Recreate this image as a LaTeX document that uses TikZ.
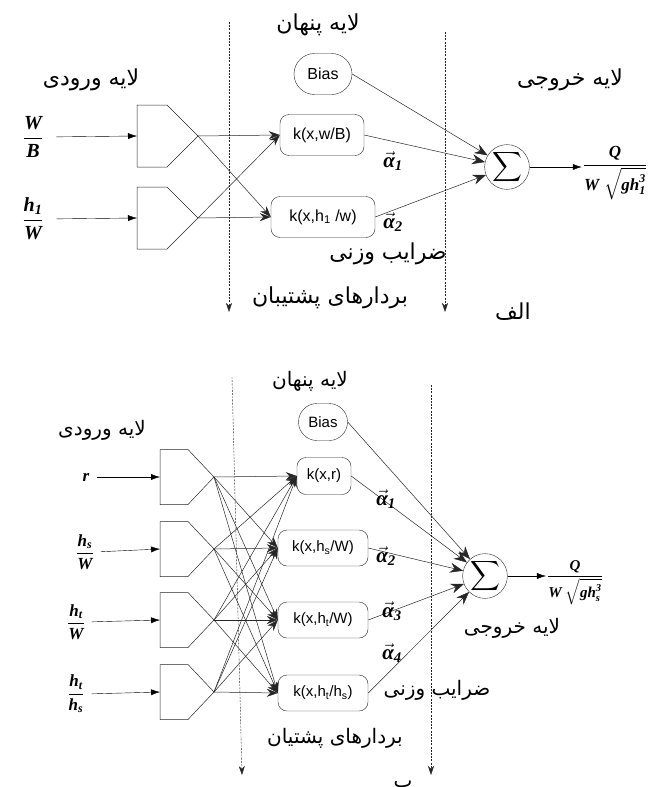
\documentclass[tikz,border=0pt]{standalone}
\usepackage{amsmath}
\usepackage{fontspec}
\usetikzlibrary{arrows.meta,shapes.misc}
\newfontfamily\persianfont[Script=Arabic]{DejaVu Sans}
\newfontfamily\arialfont{Liberation Sans}
\newfontfamily\timesfont{Liberation Serif}
\TeXXeTstate=1
\newcommand{\fa}[1]{\persianfont\beginR #1\endR}
\newcommand{\bi}[1]{\text{\timesfont\bfseries\itshape #1}}

\tikzset{
  kbox/.style={draw, black!85, text=black, rounded corners=9pt, inner sep=2pt},
  biasbox/.style={draw, black!85, text=black, rounded rectangle, inner sep=2pt},
  sumnode/.style={draw, black!85, text=black, circle, inner sep=0pt},
  neuronline/.style={black!85, line width=0.5pt},
  inarrow/.style={-{Latex[length=9pt,width=6pt]}},
  hidarrow/.style={-{Stealth[length=11pt,width=8pt]}},
  sumarrow/.style={-{Stealth[length=13pt,width=10pt]}},
  sepline/.style={black!85, dash pattern=on 2pt off 1.2pt, -{Stealth[length=9pt,width=6pt]}},
  fatext/.style={inner sep=1pt},
  alab/.style={font=\fontsize{21}{23}\selectfont, inner sep=0pt}
}

\begin{document}
\begin{tikzpicture}[x=1pt,y=-1pt]
    \useasboundingbox (0,0) rectangle (649,787);

    % ---------- (الف) ----------
    % separators
    \coordinate (dA1) at (229,22);  \coordinate (eA1) at (229,312);
    \coordinate (dA2) at (445,32);  \coordinate (eA2) at (445,312);
    \draw[sepline] (dA1) -- (eA1);
    \draw[sepline] (dA2) -- (eA2);

    % input layer
    \node[fatext, font=\fontsize{22}{26}\selectfont] (inlayA) at (91,80) {\fa{لایه ورودی}};
    \node[font=\fontsize{20}{22}\selectfont, inner sep=1pt] (xA1) at (33,137) {$\dfrac{\bi{W}}{\bi{B}}$};
    \node[font=\fontsize{20}{22}\selectfont, inner sep=1pt] (xA2) at (33,219) {$\dfrac{\bi{h}_{\bi{1}}}{\bi{W}}$};
    \foreach \n/\y in {1/136,2/218}{
        \draw[neuronline] (137,\y-31) -- (167,\y-31) -- (198,\y) -- (167,\y+31) -- (137,\y+31) -- cycle;
        \coordinate (nA\n) at (137,\y);
        \coordinate (tA\n) at (198,\y);
    }
    \draw[inarrow, shorten <=12pt] (xA1.east) -- (nA1);
    \draw[inarrow, shorten <=12pt] (xA2.east) -- (nA2);

    % hidden layer
    \node[fatext, font=\fontsize{22}{26}\selectfont] (hidA) at (318,25) {\fa{لایه پنهان}};
    \node[biasbox, minimum width=62pt, minimum height=41pt, font=\arialfont\fontsize{16}{19}\selectfont] (biasA) at (323,74) {Bias};
    \node[kbox, minimum width=84pt, minimum height=41pt, font=\arialfont\fontsize{16}{19}\selectfont] (kA1) at (322,135) {k(x,w/B)};
    \node[kbox, minimum width=104pt, minimum height=41pt, font=\arialfont\fontsize{16}{19}\selectfont] (kA2) at (323,217) {k(x,h\textsubscript{1} /w)};
    \foreach \i in {1,2}
        \foreach \j in {1,2}
            \draw[neuronline, hidarrow] (tA\i) -- (kA\j.west);

    % output layer
    \node[sumnode, minimum size=40pt] (sumA) at (507,167) {\fontsize{22}{24}\selectfont$\displaystyle\sum$};
    \draw[neuronline, sumarrow] (biasA.east) -- (sumA);
    \draw[neuronline, sumarrow] (kA1.east) -- (sumA);
    \draw[neuronline, sumarrow] (kA2.east) -- (sumA);
    \node[font=\fontsize{17}{19}\selectfont, inner sep=1pt] (outA) at (615,173) {$\dfrac{\bi{Q}}{\bi{W}\;\sqrt{\bi{gh}_{\bi{1}}^{\bi{3}}}}$};
    \draw[inarrow] (sumA) -- (sumA -| outA.west);
    \node[fatext, font=\fontsize{22}{26}\selectfont] (outlayA) at (570,80) {\fa{لایه خروجی}};

    % weights
    \node[alab] (alA1) at (393,161) {$\vec{\bi{α}}_{\bi{1}}$};
    \node[alab] (alA2) at (393,222) {$\vec{\bi{α}}_{\bi{2}}$};
    \node[fatext, font=\fontsize{22}{26}\selectfont] (wA) at (388,254) {\fa{ضرایب وزنی}};
    \node[fatext, font=\fontsize{22}{26}\selectfont] (svA) at (330,298) {\fa{بردارهای پشتیبان}};
    \node[fatext, font=\fontsize{22}{26}\selectfont] (capA) at (513,312) {\fa{الف}};

    % ---------- (ب) ----------
    % separators
    \coordinate (dB1) at (232,377);  \coordinate (eB1) at (242,775);
    \coordinate (dB2) at (431,385);  \coordinate (eB2) at (431,775);
    \draw[sepline] (dB1) -- (eB1);
    \draw[sepline] (dB2) -- (eB2);

    % input layer
    \node[fatext, font=\fontsize{20}{24}\selectfont] (inlayB) at (102,430) {\fa{لایه ورودی}};
    \node[font=\fontsize{17}{19}\selectfont, inner sep=1pt] (xB1) at (86,477) {$\bi{r}$};
    \node[font=\fontsize{17}{19}\selectfont, inner sep=1pt] (xB2) at (85,552) {$\dfrac{\bi{h}_{\bi{s}}}{\bi{W}}$};
    \node[font=\fontsize{17}{19}\selectfont, inner sep=1pt] (xB3) at (76,622) {$\dfrac{\bi{h}_{\bi{t}}}{\bi{W}}$};
    \node[font=\fontsize{17}{19}\selectfont, inner sep=1pt] (xB4) at (76,694) {$\dfrac{\bi{h}_{\bi{t}}}{\bi{h}_{\bi{s}}}$};
    \foreach \n/\y in {1/477,2/549,3/620,4/692}{
        \draw[neuronline] (160,\y-27.5) -- (188,\y-27.5) -- (214,\y) -- (188,\y+27.5) -- (160,\y+27.5) -- cycle;
        \coordinate (nB\n) at (160,\y);
        \coordinate (tB\n) at (214,\y);
    }
    \draw[inarrow, shorten <=6pt] (xB1.east) -- (nB1);
    \foreach \n in {2,3,4}
        \draw[inarrow, shorten <=6pt] (xB\n.east) -- (nB\n);

    % hidden layer
    \node[fatext, font=\fontsize{20}{24}\selectfont] (hidB) at (310,381) {\fa{لایه پنهان}};
    \node[biasbox, minimum width=53pt, minimum height=37pt, font=\arialfont\fontsize{15}{18}\selectfont] (biasB) at (323,422) {Bias};
    \node[kbox, minimum width=54pt, minimum height=37pt, font=\arialfont\fontsize{15}{18}\selectfont] (kB1) at (324,476) {k(x,r)};
    \node[kbox, minimum width=90pt, minimum height=36pt, font=\arialfont\fontsize{15}{18}\selectfont] (kB2) at (323,548) {k(x,h\textsubscript{s}/W)};
    \node[kbox, minimum width=90pt, minimum height=36pt, font=\arialfont\fontsize{15}{18}\selectfont] (kB3) at (323,620) {k(x,h\textsubscript{t}/W)};
    \node[kbox, minimum width=90pt, minimum height=36pt, font=\arialfont\fontsize{15}{18}\selectfont] (kB4) at (323,693) {k(x,h\textsubscript{t}/h\textsubscript{s})};
    \foreach \i in {1,...,4}
        \foreach \j in {1,...,4}
            \draw[neuronline, hidarrow] (tB\i) -- (kB\j.west);

    % output layer
    \node[sumnode, minimum size=36pt] (sumB) at (485,576) {\fontsize{20}{22}\selectfont$\displaystyle\sum$};
    \draw[neuronline, sumarrow] (biasB.east) -- (sumB);
    \foreach \j in {1,...,4}
        \draw[neuronline, sumarrow] (kB\j.east) -- (sumB);
    \node[font=\fontsize{15}{17}\selectfont, inner sep=1pt] (outB) at (575,583) {$\dfrac{\bi{Q}}{\bi{W}\;\sqrt{\bi{gh}_{\bi{s}}^{\bi{3}}}}$};
    \draw[inarrow] (sumB) -- (sumB -| outB.west);
    \node[fatext, font=\fontsize{20}{24}\selectfont] (outlayB) at (512,628) {\fa{لایه خروجی}};

    % weights
    \node[alab] (alB1) at (386,499) {$\vec{\bi{α}}_{\bi{1}}$};
    \node[alab] (alB2) at (386,556) {$\vec{\bi{α}}_{\bi{2}}$};
    \node[alab] (alB3) at (392,611) {$\vec{\bi{α}}_{\bi{3}}$};
    \node[alab] (alB4) at (392,653) {$\vec{\bi{α}}_{\bi{4}}$};
    \node[fatext, font=\fontsize{20}{24}\selectfont] (wB) at (437,690) {\fa{ضرایب وزنی}};
    \node[fatext, font=\fontsize{20}{24}\selectfont] (svB) at (335,738) {\fa{بردارهای پشتیان}};
    \node[fatext, font=\fontsize{20}{24}\selectfont] (capB) at (403,786) {\fa{ب}};
\end{tikzpicture}
\end{document}
